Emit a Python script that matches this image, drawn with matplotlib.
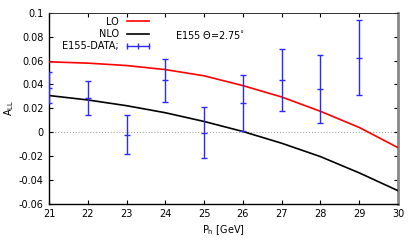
import numpy as np
import matplotlib.pyplot as plt
from matplotlib.lines import Line2D
from matplotlib.ticker import FormatStrFormatter

# theory curves at integer P_h
ph_curve = [21, 22, 23, 24, 25, 26, 27, 28, 29, 30]
all_lo = [0.0589, 0.0578, 0.0558, 0.0524, 0.0472, 0.0390, 0.0295, 0.0175, 0.0040, -0.0129]
all_nlo = [0.0307, 0.0270, 0.0222, 0.0163, 0.0090, 0.0006, -0.0092, -0.0204, -0.0340, -0.0489]

# E155 data
ph_data = [21, 22, 23, 24, 25, 26, 27, 28, 29]
all_data = [0.0374, 0.0288, -0.0020, 0.0433, -0.0003, 0.0243, 0.0436, 0.0360, 0.0623]
all_err = [0.0130, 0.0140, 0.0160, 0.0180, 0.0210, 0.0232, 0.0262, 0.0285, 0.0313]

plt.rcParams['font.family'] = 'DejaVu Sans'
plt.rcParams['font.size'] = 7

fig = plt.figure(figsize=(4.15, 2.49), dpi=100)
ax = fig.add_axes([0.118, 0.181, 0.841, 0.768])

ax.axhline(0, color='#999999', linestyle=(0, (1, 2)), linewidth=0.7, zorder=1)

ax.plot(ph_curve, all_lo, color='#ff0000', linewidth=1.2, label='LO', zorder=3)
ax.plot(ph_curve, all_nlo, color='black', linewidth=1.2, label='NLO', zorder=3)
ax.errorbar(ph_data, all_data, yerr=all_err, fmt='none', ecolor='#2a2aff',
            elinewidth=1.0, capsize=2, capthick=1.0, zorder=4)
ax.plot(ph_data, all_data, linestyle='none', marker='_', markersize=5,
        markeredgewidth=1.0, color='#2a2aff', zorder=4)

ax.set_xlim(21, 30)
ax.set_ylim(-0.06, 0.1)
ax.set_xticks(np.arange(21, 31, 1))
ax.set_yticks(np.arange(-0.06, 0.1001, 0.02))
ax.yaxis.set_major_formatter(FormatStrFormatter('%g'))
ax.set_yticklabels(['-0.06', '-0.04', '-0.02', '0', '0.02', '0.04', '0.06', '0.08', '0.1'])
ax.tick_params(direction='in', length=3, width=0.8, top=True, right=True, pad=4)

ax.set_xlabel(r'P$_\mathregular{h}$ [GeV]', labelpad=3)
ax.set_ylabel(r'A$_\mathregular{LL}$', labelpad=2)

for side in ['left', 'bottom']:
    ax.spines[side].set_color('black')
    ax.spines[side].set_linewidth(1.0)
ax.spines['top'].set_color('#333333')
ax.spines['top'].set_linewidth(0.7)
ax.spines['right'].set_color('#888888')
ax.spines['right'].set_linewidth(2.0)

data_handle = Line2D([], [], color='#2a2aff', linewidth=1.0, marker='|',
                     markersize=4, markeredgewidth=1.0)
handles = [Line2D([], [], color='#ff0000', linewidth=1.2),
           Line2D([], [], color='black', linewidth=1.2),
           data_handle]
ax.legend(handles, ['LO', 'NLO', 'E155-DATA;'], loc='upper right',
          bbox_to_anchor=(0.298, 0.985), frameon=False, markerfirst=False,
          handlelength=2.9, handletextpad=0.5, labelspacing=0.25,
          borderaxespad=0, borderpad=0.1, numpoints=3, fontsize=7)

ax.text(0.36, 0.885, 'E155 Θ=2.75$^{\\circ}$', transform=ax.transAxes,
        fontsize=7, ha='left', va='center')

fig.savefig('out.png', dpi=100)
